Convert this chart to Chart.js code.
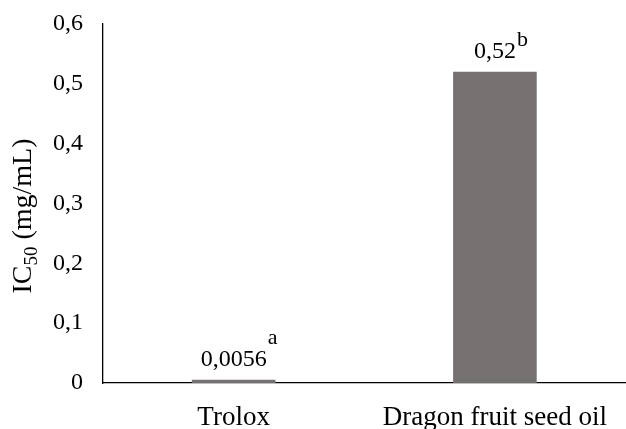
<!DOCTYPE html>
<html>
<head>
<meta charset="utf-8">
<script src="https://cdn.jsdelivr.net/npm/chart.js@4.4.1/dist/chart.umd.min.js"></script>
<style>
  html, body { margin: 0; padding: 0; background: #fff; }
  #wrap { width: 626px; height: 429px; position: relative; }
</style>
</head>
<body>
<div id="wrap"><canvas id="c" width="626" height="429"></canvas></div>
<script>
// Samples and their IC50 values (mg/mL)
const categories = ['Trolox', 'Dragon fruit seed oil'];
const ic50Values = [0.0056, 0.52];
const valueLabels = ['0,0056', '0,52'];
const significanceLetters = ['a', 'b'];
const yTicks = [0, 0.1, 0.2, 0.3, 0.4, 0.5, 0.6];

const FONT = "'Liberation Serif', 'Times New Roman', serif";
const BAR_COLOR = '#767171';

// Value labels centred on each bar, significance letter as a superscript after it
const barLabels = {
  id: 'barLabels',
  afterDatasetsDraw(chart, args, opts) {
    const ctx = chart.ctx;
    const meta = chart.getDatasetMeta(0);
    ctx.save();
    ctx.fillStyle = '#000';
    ctx.textBaseline = 'alphabetic';
    ctx.textAlign = 'left';
    meta.data.forEach((bar, i) => {
      ctx.font = `${opts.size}px ${FONT}`;
      const main = valueLabels[i];
      const wMain = ctx.measureText(main).width;
      const x0 = bar.x - wMain / 2;
      const base = bar.y - opts.gap;
      ctx.fillText(main, x0, base);
      ctx.font = `${opts.supSize}px ${FONT}`;
      ctx.fillText(significanceLetters[i], x0 + wMain + 1, base - opts.raise[i]);
    });
    ctx.restore();
  }
};

// Rotated y-axis title "IC50 (mg/mL)" with a subscript 50
const yTitle = {
  id: 'yTitle',
  afterDraw(chart, args, opts) {
    const ctx = chart.ctx;
    const parts = [
      { t: 'IC', size: opts.size, dy: 0 },
      { t: '50', size: opts.subSize, dy: opts.subDrop },
      { t: ' (mg/mL)', size: opts.size, dy: 0 }
    ];
    ctx.save();
    let total = 0;
    parts.forEach(p => { ctx.font = `${p.size}px ${FONT}`; p.w = ctx.measureText(p.t).width; total += p.w; });
    ctx.translate(opts.x, opts.centerY);
    ctx.rotate(-Math.PI / 2);
    ctx.fillStyle = '#000';
    ctx.textBaseline = 'alphabetic';
    ctx.textAlign = 'left';
    let x = -total / 2;
    parts.forEach(p => {
      ctx.font = `${p.size}px ${FONT}`;
      ctx.fillText(p.t, x, p.dy);
      x += p.w;
    });
    ctx.restore();
  }
};

new Chart(document.getElementById('c'), {
  type: 'bar',
  data: {
    labels: categories,
    datasets: [{
      data: ic50Values,
      backgroundColor: BAR_COLOR,
      borderWidth: 0,
      barPercentage: 0.32,
      categoryPercentage: 1.0
    }]
  },
  options: {
    responsive: false,
    animation: false,
    layout: { padding: { top: 24, right: 0, bottom: 0, left: 0 } },
    plugins: {
      legend: { display: false },
      tooltip: { enabled: false },
      barLabels: { size: 24, supSize: 22, gap: 14, raise: [22, 12] },
      yTitle: { size: 28, subSize: 19, subDrop: 6, x: 31, centerY: 216 }
    },
    scales: {
      x: {
        grid: { display: false, drawTicks: false },
        border: { display: true, color: '#000', width: 1.3 },
        ticks: { color: '#000', font: { family: FONT, size: 27 }, padding: 19 },
        afterFit(scale) { scale.height = 46; }
      },
      y: {
        min: 0,
        max: 0.6,
        afterBuildTicks(scale) { scale.ticks = yTicks.map(v => ({ value: v })); },
        grid: { display: false, drawTicks: false },
        border: { display: true, color: '#000', width: 1.3 },
        ticks: {
          color: '#000',
          font: { family: FONT, size: 24 },
          padding: 20,
          callback: v => (v === 0 ? '0' : v.toFixed(1).replace('.', ','))
        },
        afterFit(scale) {
          scale.width = 103;
          scale.paddingTop = 0;
          scale.paddingBottom = 0;
        }
      }
    }
  },
  plugins: [barLabels, yTitle]
});
</script>
</body>
</html>
